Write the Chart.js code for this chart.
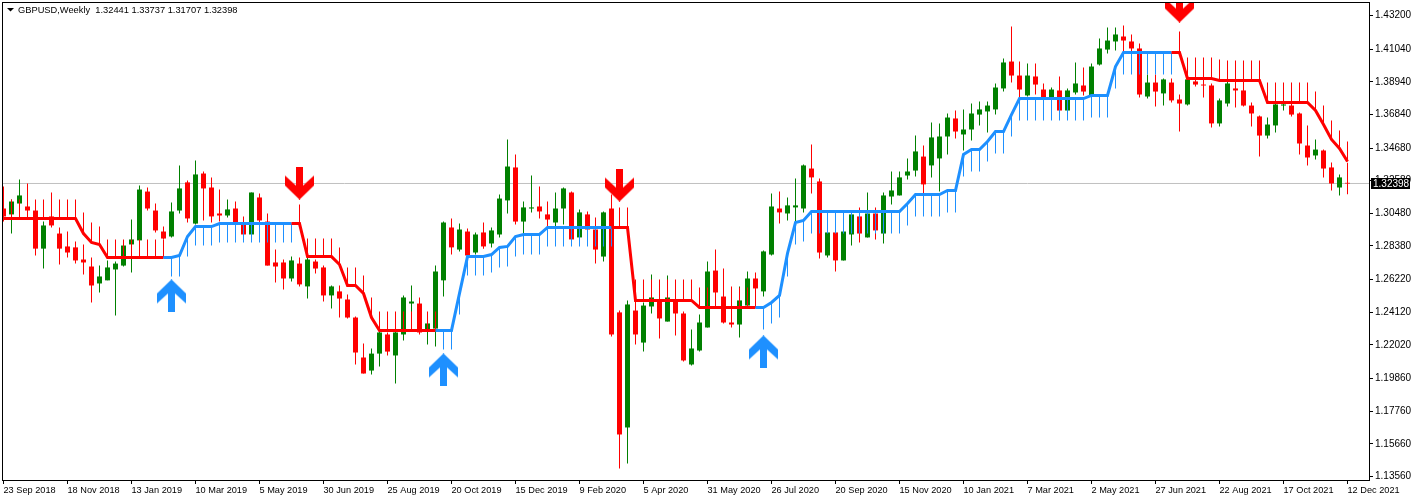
<!DOCTYPE html>
<html>
<head>
<meta charset="utf-8">
<title>GBPUSD Weekly</title>
<script src="https://cdn.jsdelivr.net/npm/chart.js@4/dist/chart.umd.min.js"></script>
<style>
html, body { margin: 0; padding: 0; background: #fff; overflow: hidden; }
canvas { display: block; }
</style>
</head>
<body>
<canvas id="myChart" width="1415" height="501"></canvas>
<script>
//-----------Data-----------
var headerText = "GBPUSD,Weekly  1.32441 1.33737 1.31707 1.32398";
var lastPrice = 1.32398;

var timeLabels = ["23 Sep 2018","18 Nov 2018","13 Jan 2019","10 Mar 2019","5 May 2019","30 Jun 2019","25 Aug 2019","20 Oct 2019","15 Dec 2019","9 Feb 2020","5 Apr 2020","31 May 2020","26 Jul 2020","20 Sep 2020","15 Nov 2020","10 Jan 2021","7 Mar 2021","2 May 2021","27 Jun 2021","22 Aug 2021","17 Oct 2021","12 Dec 2021"];
var priceTicks = [1.432,1.4104,1.3894,1.3684,1.3468,1.3258,1.3048,1.2838,1.2622,1.2412,1.2202,1.1986,1.1776,1.1566,1.1356];

var openPrices = [1.3079,1.3041,1.3111,1.3092,1.3066,1.2821,1.3028,1.2918,1.2835,1.2829,1.2751,1.2706,1.2597,1.2617,1.2687,1.2712,1.2848,1.2874,1.3188,1.3066,1.2931,1.2899,1.3066,1.3247,1.2982,1.3304,1.3214,1.3047,1.3034,1.3079,
1.2976,1.2912,1.3150,1.2995,1.2732,1.2732,1.2629,1.2725,1.2578,1.2738,1.2700,1.2520,1.2546,1.2494,1.2378,1.2121,1.2037,1.2146,1.2269,1.2134,1.2269,1.2468,1.2468,1.2301,1.2307,1.2617,1.2957,1.2815,1.2931,1.2796,
1.2925,1.2854,1.2912,1.3131,1.3343,1.2995,1.3079,1.3092,1.3041,1.2989,1.3079,1.3182,1.2893,1.3041,1.2944,1.2770,1.3079,1.2411,1.1671,1.2423,1.2217,1.2449,1.2488,1.2352,1.2488,1.2404,1.2076,1.2166,1.2314,1.2680,
1.2513,1.2346,1.2333,1.2455,1.2629,1.2546,1.2783,1.3079,1.3047,1.3086,1.3079,1.3336,1.3253,1.2777,1.2925,1.2745,1.2912,1.3028,1.2893,1.3047,1.2918,1.3156,1.3163,1.3291,1.3323,1.3413,1.3356,1.3401,1.3542,1.3658,
1.3555,1.3587,1.3683,1.3703,1.3716,1.3851,1.4024,1.3934,1.3806,1.3928,1.3844,1.3786,1.3838,1.3709,1.3825,1.3870,1.3799,1.4005,1.4101,1.4153,1.4185,1.4153,1.4108,1.3799,1.3889,1.3819,1.3889,1.3780,1.3748,1.3896,
1.3876,1.3870,1.3626,1.3754,1.3851,1.3838,1.3741,1.3671,1.3548,1.3613,1.3741,1.3741,1.3690,1.3484,1.3420,1.3452,1.3343,1.3214,1.32441];

var highPrices = [1.3221,1.3137,1.3266,1.3240,1.3105,1.2995,1.3182,1.2957,1.2931,1.2867,1.2848,1.2764,1.2712,1.2745,1.2738,1.2854,1.3008,1.3227,1.3214,1.3111,1.2963,1.3118,1.3356,1.3259,1.3388,1.3317,1.3279,1.3201,1.3137,1.3124,
1.3028,1.3182,1.3176,1.3047,1.2815,1.2751,1.2770,1.2764,1.2770,1.2751,1.2712,1.2584,1.2584,1.2526,1.2385,1.2211,1.2179,1.2295,1.2282,1.2301,1.2520,1.2584,1.2507,1.2352,1.2712,1.2995,1.3015,1.2982,1.2950,1.2925,
1.2989,1.2957,1.3169,1.3523,1.3426,1.3124,1.3291,1.3221,1.3124,1.3182,1.3214,1.3188,1.3073,1.3060,1.3021,1.3060,1.3169,1.2423,1.2488,1.2481,1.2475,1.2655,1.2591,1.2648,1.2571,1.2417,1.2301,1.2397,1.2738,1.2815,
1.2693,1.2578,1.2578,1.2674,1.2668,1.2809,1.3176,1.3188,1.3150,1.3272,1.3362,1.3491,1.3272,1.2944,1.2931,1.2938,1.3054,1.3086,1.3182,1.3086,1.3182,1.3317,1.3317,1.3401,1.3548,1.3484,1.3632,1.3626,1.3690,1.3709,
1.3716,1.3754,1.3767,1.3767,1.3883,1.4044,1.4249,1.4024,1.4011,1.4011,1.3883,1.3857,1.3928,1.3851,1.4018,1.3986,1.4011,1.4172,1.4243,1.4243,1.4256,1.4198,1.4140,1.3941,1.3941,1.3915,1.3915,1.3812,1.3915,1.3915,
1.3909,1.3883,1.3786,1.3896,1.3896,1.3896,1.3761,1.3677,1.3664,1.3761,1.3761,1.3754,1.3696,1.3613,1.3523,1.3458,1.3375,1.3298,1.33737];

var lowPrices = [1.2995,1.2918,1.3047,1.3015,1.2777,1.2693,1.2957,1.2719,1.2764,1.2725,1.2655,1.2475,1.2539,1.2617,1.2391,1.2706,1.2668,1.2861,1.3066,1.2925,1.2880,1.2893,1.3047,1.2989,1.2976,1.3002,1.2989,1.2995,1.3021,1.2976,
1.2905,1.2905,1.2982,1.2712,1.2604,1.2558,1.2610,1.2578,1.2500,1.2661,1.2481,1.2436,1.2378,1.2372,1.2076,1.2018,1.2012,1.2063,1.2134,1.1954,1.2230,1.2295,1.2269,1.2204,1.2192,1.2513,1.2783,1.2803,1.2770,1.2783,
1.2821,1.2829,1.2893,1.3047,1.2976,1.2918,1.3054,1.3015,1.2957,1.2963,1.2976,1.2880,1.2893,1.2931,1.2725,1.2738,1.2256,1.1407,1.1440,1.2204,1.2159,1.2404,1.2243,1.2352,1.2262,1.2095,1.2070,1.2159,1.2314,1.2449,
1.2340,1.2314,1.2250,1.2449,1.2443,1.2513,1.2777,1.2982,1.3002,1.2976,1.3054,1.3176,1.2758,1.2764,1.2674,1.2745,1.2841,1.2861,1.2893,1.2880,1.2854,1.3105,1.3163,1.3266,1.3285,1.3169,1.3279,1.3188,1.3426,1.3529,
1.3452,1.3516,1.3613,1.3568,1.3683,1.3831,1.3889,1.3786,1.3799,1.3812,1.3780,1.3780,1.3709,1.3709,1.3812,1.3806,1.3793,1.3999,1.4076,1.4095,1.4082,1.4082,1.3793,1.3786,1.3735,1.3741,1.3761,1.3574,1.3741,1.3864,
1.3793,1.3600,1.3606,1.3735,1.3729,1.3735,1.3606,1.3413,1.3529,1.3568,1.3709,1.3671,1.3426,1.3356,1.3394,1.3279,1.3195,1.3163,1.31707];

var closePrices = [1.3028,1.3124,1.3163,1.3066,1.2821,1.2970,1.2970,1.2821,1.2796,1.2745,1.2732,1.2584,1.2642,1.2700,1.2725,1.2841,1.2880,1.3201,1.3079,1.2938,1.2886,1.3060,1.3208,1.3015,1.3298,1.3208,1.3028,1.3034,1.3073,1.2989,
1.2912,1.3182,1.3002,1.2712,1.2706,1.2629,1.2745,1.2591,1.2751,1.2693,1.2520,1.2578,1.2500,1.2378,1.2153,1.2018,1.2146,1.2282,1.2159,1.2282,1.2507,1.2481,1.2282,1.2340,1.2674,1.2989,1.2829,1.2944,1.2777,1.2912,
1.2835,1.2938,1.3143,1.3349,1.2995,1.3086,1.3086,1.3060,1.3008,1.3079,1.3208,1.2880,1.3054,1.2944,1.2815,1.3054,1.2269,1.1626,1.2462,1.2269,1.2455,1.2507,1.2372,1.2507,1.2404,1.2102,1.2179,1.2346,1.2674,1.2539,
1.2346,1.2333,1.2488,1.2629,1.2565,1.2803,1.3092,1.3054,1.3099,1.3099,1.3356,1.3279,1.2796,1.2925,1.2745,1.2931,1.3041,1.2918,1.3047,1.2938,1.3163,1.3195,1.3279,1.3317,1.3446,1.3234,1.3536,1.3542,1.3664,1.3574,
1.3587,1.3690,1.3716,1.3741,1.3857,1.4018,1.3934,1.3844,1.3934,1.3876,1.3786,1.3844,1.3709,1.3838,1.3883,1.3831,1.3992,1.4108,1.4159,1.4198,1.4159,1.4108,1.3812,1.3889,1.3831,1.3909,1.3774,1.3754,1.3909,1.3876,
1.3870,1.3626,1.3774,1.3883,1.3838,1.3741,1.3690,1.3548,1.3619,1.3748,1.3748,1.3683,1.3497,1.3407,1.3458,1.3336,1.3240,1.3279,1.32398];

// trailing stop line of the indicator
var stopLine = [1.3015,1.3015,1.3015,1.3015,1.3015,1.3015,1.3015,1.3015,1.3015,1.3015,1.2918,1.2861,1.2848,1.2764,1.2764,1.2764,1.2764,1.2764,1.2764,1.2764,1.2764,1.2764,1.2777,1.2899,1.2963,1.2963,1.2963,1.2982,1.2982,1.2982,
1.2982,1.2982,1.2982,1.2982,1.2982,1.2982,1.2982,1.2982,1.2770,1.2770,1.2770,1.2770,1.2719,1.2584,1.2584,1.2533,1.2378,1.2295,1.2295,1.2295,1.2295,1.2295,1.2295,1.2295,1.2295,1.2295,1.2295,1.2533,1.2770,1.2770,
1.2770,1.2783,1.2829,1.2835,1.2899,1.2912,1.2912,1.2912,1.2957,1.2957,1.2957,1.2957,1.2957,1.2957,1.2957,1.2957,1.2957,1.2957,1.2957,1.2488,1.2488,1.2488,1.2488,1.2488,1.2488,1.2488,1.2488,1.2443,1.2443,1.2443,
1.2443,1.2443,1.2443,1.2443,1.2443,1.2443,1.2475,1.2520,1.2790,1.2989,1.3002,1.3060,1.3060,1.3060,1.3060,1.3060,1.3060,1.3060,1.3060,1.3060,1.3060,1.3060,1.3060,1.3111,1.3169,1.3169,1.3169,1.3169,1.3195,1.3195,
1.3426,1.3458,1.3458,1.3510,1.3574,1.3574,1.3683,1.3786,1.3786,1.3786,1.3786,1.3786,1.3786,1.3786,1.3786,1.3786,1.3806,1.3806,1.3806,1.3992,1.4082,1.4082,1.4082,1.4082,1.4082,1.4082,1.4082,1.4082,1.3915,1.3915,
1.3915,1.3915,1.3902,1.3902,1.3902,1.3902,1.3902,1.3902,1.3761,1.3761,1.3761,1.3761,1.3761,1.3761,1.3709,1.3619,1.3523,1.3465,1.3381];

// far end of the thin stripes: above the stop line in a downtrend, below it in an uptrend
var stopBand = [1.3137,1.3137,1.3137,1.3137,1.3137,1.3137,1.3137,1.3137,1.3137,1.3137,1.3054,1.2989,1.2963,1.2880,1.2880,1.2880,1.2880,1.2880,1.2880,1.2880,1.2880,1.2642,1.2642,1.2770,1.2841,1.2841,1.2841,1.2861,1.2861,1.2861,
1.2861,1.2861,1.2861,1.2861,1.2861,1.2861,1.2861,1.3105,1.2886,1.2886,1.2886,1.2886,1.2829,1.2700,1.2700,1.2648,1.2507,1.2417,1.2417,1.2417,1.2417,1.2417,1.2417,1.2417,1.2417,1.2172,1.2172,1.2397,1.2648,1.2648,
1.2648,1.2668,1.2700,1.2706,1.2770,1.2783,1.2783,1.2783,1.2835,1.2835,1.2835,1.2835,1.2835,1.2835,1.2835,1.2835,1.2835,1.3086,1.3086,1.2623,1.2623,1.2623,1.2623,1.2623,1.2623,1.2623,1.2623,1.2571,1.2571,1.2571,
1.2571,1.2571,1.2571,1.2571,1.2571,1.2301,1.2340,1.2378,1.2642,1.2848,1.2867,1.2918,1.2918,1.2918,1.2918,1.2918,1.2918,1.2918,1.2918,1.2918,1.2918,1.2918,1.2918,1.2970,1.3028,1.3028,1.3028,1.3028,1.3054,1.3054,
1.3285,1.3317,1.3317,1.3381,1.3433,1.3433,1.3542,1.3645,1.3645,1.3645,1.3645,1.3645,1.3645,1.3645,1.3645,1.3645,1.3664,1.3664,1.3664,1.3851,1.3941,1.3941,1.3941,1.3941,1.3941,1.3941,1.3941,1.4217,1.4050,1.4050,
1.4050,1.4050,1.4037,1.4031,1.4031,1.4031,1.4031,1.4031,1.3889,1.3889,1.3889,1.3889,1.3889,1.3889,1.3831,1.3741,1.3645,1.3581,1.3510];

var upArrowBars = [21, 55, 95];
var upArrowPrices = [1.2517, 1.2041, 1.2157];
var downArrowBars = [37, 77, 147];
var downArrowPrices = [1.3243, 1.3230, 1.4381];

//-----------Styles-----------
var RED = "#ff0000", GREEN = "#008000", BLUE = "#1e90ff", GREY = "#c0c0c0";
var FONT = "Liberation Sans";

function isDownBar(i) {
    return stopBand[i] > stopLine[i];
}

function makeArrow(color, up) {
    var c = document.createElement("canvas");
    c.width = 29;
    c.height = 33;
    var ctx = c.getContext("2d");
    if (!up) {
        ctx.translate(0, 33);
        ctx.scale(1, -1);
    }
    var pts = [[14.5,0],[29,14],[29,24],[18,14],[18,33],[11,33],[11,14],[0,24],[0,14]];
    ctx.fillStyle = color;
    ctx.beginPath();
    pts.forEach(function (p, k) {
        if (k == 0) ctx.moveTo(p[0], p[1]); else ctx.lineTo(p[0], p[1]);
    });
    ctx.closePath();
    ctx.fill();
    return c;
}

//-----------Datasets-----------
var wickData = [], bodyData = [], bodyColors = [], stripeData = [], stripeColors = [], lineData = [];
for (var i = 0; i < openPrices.length; i++) {
    wickData.push({x: i, y: [lowPrices[i], highPrices[i]]});
    bodyData.push({x: i, y: [openPrices[i], closePrices[i]]});
    bodyColors.push(closePrices[i] >= openPrices[i] ? GREEN : RED);
    stripeData.push({x: i, y: [stopLine[i], stopBand[i]]});
    stripeColors.push(isDownBar(i) ? RED : BLUE);
    lineData.push({x: i, y: stopLine[i]});
}

function arrowPoints(bars, prices) {
    return bars.map(function (b, k) { return {x: b, y: prices[k]}; });
}

var X_MIN = -0.0625, X_MAX = 170.6875, Y_MIN = 1.13333, Y_MAX = 1.44004;

//-----------Plugin: frame, header and the price tag-----------
var chartDecor = {
    id: "chartDecor",
    afterDraw: function (chart) {
        var ctx = chart.ctx, a = chart.chartArea;
        ctx.save();
        ctx.strokeStyle = "#000";
        ctx.lineWidth = 1;
        ctx.strokeRect(a.left - 0.5, a.top - 0.5, a.right - a.left + 1, a.bottom - a.top + 1);

        ctx.textBaseline = "middle";
        ctx.fillStyle = "#000";
        ctx.beginPath();
        ctx.moveTo(7, 8);
        ctx.lineTo(14, 8);
        ctx.lineTo(10.5, 11.5);
        ctx.closePath();
        ctx.fill();
        ctx.font = "9.3px '" + FONT + "'";
        ctx.fillText(headerText, 18, 10);

        var y = Math.floor(chart.scales.y.getPixelForValue(lastPrice));
        ctx.font = "10px '" + FONT + "'";
        ctx.fillStyle = "#000";
        ctx.fillRect(1371, y - 5, 39, 11);
        ctx.fillStyle = "#fff";
        ctx.fillText(lastPrice.toFixed(5), 1373, y + 1);
        ctx.restore();
    }
};

//-----------Chart-----------
var myChart = new Chart(document.getElementById("myChart").getContext("2d"), {
    type: "bar",
    data: {
        datasets: [
            {type: "line", data: [{x: X_MIN, y: lastPrice}, {x: X_MAX, y: lastPrice}], borderColor: GREY, borderWidth: 1, pointRadius: 0, order: 6},
            {data: wickData, backgroundColor: bodyColors, barThickness: 1, order: 5},
            {data: bodyData, backgroundColor: bodyColors, barThickness: 5, order: 4},
            {data: stripeData, backgroundColor: stripeColors, barThickness: 1, order: 3},
            {
                type: "line", data: lineData, borderWidth: 3, pointRadius: 0, tension: 0, order: 2,
                borderColor: RED,
                segment: {
                    borderColor: function (ctx) { return isDownBar(ctx.p1DataIndex) ? RED : BLUE; }
                }
            },
            {type: "line", data: arrowPoints(upArrowBars, upArrowPrices), showLine: false, pointStyle: makeArrow(BLUE, true), order: 1},
            {type: "line", data: arrowPoints(downArrowBars, downArrowPrices), showLine: false, pointStyle: makeArrow(RED, false), order: 1}
        ]
    },
    options: {
        responsive: false,
        animation: false,
        devicePixelRatio: 1,
        layout: {autoPadding: false, padding: {left: 3, top: 3, right: 0, bottom: 0}},
        datasets: {bar: {grouped: false, inflateAmount: 0, borderWidth: 0}},
        plugins: {legend: {display: false}, tooltip: {enabled: false}},
        scales: {
            x: {
                type: "linear",
                offset: false,
                min: X_MIN,
                max: X_MAX,
                afterBuildTicks: function (s) {
                    s.ticks = timeLabels.map(function (t, k) { return {value: k * 8}; });
                },
                afterFit: function (s) {
                    s.height = 21;
                    s.paddingLeft = 0;
                    s.paddingRight = 0;
                },
                grid: {offset: false, drawOnChartArea: false, tickLength: 4, color: "#000"},
                border: {color: "#000"},
                ticks: {
                    autoSkip: false, maxRotation: 0, align: "start", color: "#000", padding: 1,
                    font: {family: FONT, size: 9.2},
                    callback: function (v) { return timeLabels[v / 8]; }
                }
            },
            y: {
                position: "right",
                min: Y_MIN,
                max: Y_MAX,
                afterBuildTicks: function (s) {
                    s.ticks = priceTicks.map(function (v) { return {value: v}; });
                },
                afterFit: function (s) {
                    s.width = 46;
                    s.paddingTop = 0;
                    s.paddingBottom = 0;
                },
                grid: {drawOnChartArea: false, tickLength: 4, color: "#000"},
                border: {color: "#000"},
                ticks: {
                    color: "#000", padding: 2,
                    font: {family: FONT, size: 10},
                    callback: function (v) { return v.toFixed(5); }
                }
            }
        }
    },
    plugins: [chartDecor]
});
</script>
</body>
</html>
